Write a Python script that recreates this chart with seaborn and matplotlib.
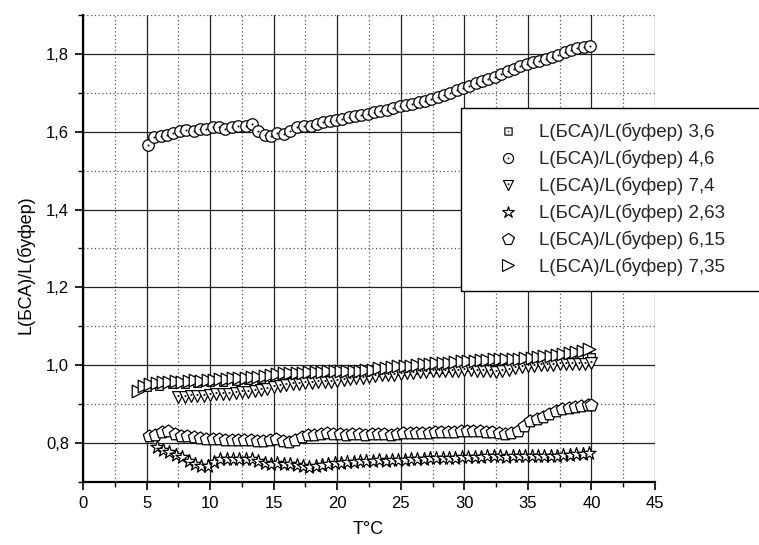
import matplotlib
matplotlib.use("Agg")
import numpy as np
import matplotlib.pyplot as plt
import seaborn as sns
from matplotlib.lines import Line2D
from matplotlib.path import Path
from matplotlib.ticker import MultipleLocator

# ---------------- data ----------------
labels = ["L(БСА)/L(буфер) 3,6", "L(БСА)/L(буфер) 4,6", "L(БСА)/L(буфер) 7,4",
          "L(БСА)/L(буфер) 2,63", "L(БСА)/L(буфер) 6,15", "L(БСА)/L(буфер) 7,35"]

t_36 = [5, 6, 7, 8, 9, 10, 11, 12, 13, 14, 15, 16, 17, 18, 19, 20, 21, 22, 23, 24,
        25, 26, 27, 28, 29, 30, 31, 32, 33, 34, 35, 36, 37, 38, 39, 40]
v_36 = [0.944, 0.947, 0.951, 0.952, 0.955, 0.956, 0.957, 0.960, 0.961, 0.964, 0.966, 0.967,
        0.970, 0.971, 0.974, 0.975, 0.978, 0.979, 0.982, 0.983, 0.986, 0.987, 0.990, 0.991,
        0.994, 0.995, 0.998, 0.999, 1.002, 1.003, 1.006, 1.008, 1.010, 1.013, 1.016, 1.020]

t_46 = [5.1, 5.6, 6.1, 6.6, 7.1, 7.6, 8.1, 8.7, 9.2, 9.7, 10.2, 10.7, 11.2, 11.7, 12.2, 12.8,
        13.3, 13.8, 14.3, 14.8, 15.3, 15.8, 16.3, 16.8, 17.4, 17.9, 18.4, 18.9, 19.4, 19.9,
        20.4, 20.9, 21.4, 21.9, 22.4, 22.9, 23.4, 23.9, 24.4, 24.9, 25.4, 25.9, 26.4, 26.9,
        27.4, 27.9, 28.4, 28.9, 29.4, 29.9, 30.4, 30.9, 31.4, 31.9, 32.4, 32.9, 33.4, 33.9,
        34.4, 34.9, 35.4, 35.9, 36.4, 36.9, 37.4, 37.9, 38.4, 38.9, 39.4, 39.9]
v_46 = [1.567, 1.586, 1.588, 1.592, 1.597, 1.603, 1.605, 1.602, 1.608, 1.606, 1.612, 1.611,
        1.608, 1.611, 1.616, 1.616, 1.619, 1.602, 1.592, 1.588, 1.597, 1.594, 1.603, 1.612,
        1.616, 1.615, 1.620, 1.626, 1.628, 1.630, 1.633, 1.637, 1.640, 1.643, 1.646, 1.650,
        1.653, 1.657, 1.660, 1.665, 1.668, 1.672, 1.676, 1.680, 1.685, 1.690, 1.695, 1.700,
        1.706, 1.712, 1.718, 1.724, 1.730, 1.735, 1.741, 1.749, 1.755, 1.762, 1.768, 1.774,
        1.778, 1.783, 1.787, 1.792, 1.798, 1.804, 1.810, 1.815, 1.818, 1.821]

t_74 = [7.5, 8.0, 8.5, 9.0, 9.5, 10.0, 10.5, 11.0, 11.5, 12.0, 12.5, 13.0, 13.5, 14.0, 14.5,
        15.0, 15.5, 16.0, 16.5, 17.0, 17.5, 18.0, 18.5, 19.0, 19.5, 20.0, 20.5, 21.0, 21.5,
        22.0, 22.5, 23.0, 23.5, 24.0, 24.5, 25.0, 25.5, 26.0, 26.5, 27.0, 27.5, 28.0, 28.5,
        29.0, 29.5, 30.0, 30.5, 31.0, 31.5, 32.0, 32.5, 33.0, 33.5, 34.0, 34.5, 35.0, 35.5,
        36.0, 36.5, 37.0, 37.5, 38.0, 38.5, 39.0, 39.5, 40.0]
v_74 = [0.918, 0.919, 0.920, 0.921, 0.922, 0.923, 0.925, 0.926, 0.927, 0.929, 0.930, 0.932,
        0.934, 0.937, 0.940, 0.944, 0.947, 0.949, 0.951, 0.952, 0.954, 0.955, 0.956, 0.957,
        0.958, 0.960, 0.962, 0.964, 0.966, 0.968, 0.970, 0.972, 0.974, 0.975, 0.976, 0.978,
        0.980, 0.981, 0.982, 0.983, 0.984, 0.985, 0.985, 0.986, 0.986, 0.987, 0.987, 0.986,
        0.985, 0.984, 0.982, 0.985, 0.989, 0.993, 0.996, 0.998, 0.999, 1.000, 1.001, 1.001,
        1.002, 1.002, 1.003, 1.003, 1.004, 1.005]

t_263 = [5.8, 6.3, 6.8, 7.3, 7.8, 8.3, 8.8, 9.3, 9.8, 10.3, 10.8, 11.3, 11.8, 12.3, 12.8,
         13.3, 13.8, 14.3, 14.8, 15.3, 15.8, 16.3, 16.8, 17.3, 17.8, 18.3, 18.8, 19.3, 19.8,
         20.3, 20.8, 21.3, 21.8, 22.3, 22.8, 23.3, 23.8, 24.3, 24.8, 25.3, 25.8, 26.3, 26.8,
         27.3, 27.8, 28.3, 28.8, 29.3, 29.8, 30.3, 30.8, 31.3, 31.8, 32.3, 32.8, 33.3, 33.8,
         34.3, 34.8, 35.3, 35.8, 36.3, 36.8, 37.3, 37.8, 38.3, 38.8, 39.3, 39.8]
v_263 = [0.790, 0.782, 0.776, 0.770, 0.763, 0.754, 0.746, 0.742, 0.741, 0.752, 0.758, 0.760,
         0.758, 0.760, 0.760, 0.758, 0.754, 0.749, 0.747, 0.748, 0.747, 0.746, 0.744, 0.742,
         0.739, 0.741, 0.744, 0.746, 0.748, 0.750, 0.751, 0.752, 0.754, 0.755, 0.755, 0.756,
         0.755, 0.756, 0.757, 0.757, 0.758, 0.758, 0.760, 0.761, 0.761, 0.761, 0.762, 0.762,
         0.763, 0.764, 0.764, 0.765, 0.766, 0.767, 0.766, 0.765, 0.766, 0.767, 0.766, 0.766,
         0.767, 0.767, 0.768, 0.768, 0.769, 0.770, 0.771, 0.772, 0.774]

t_615 = [5.2, 5.7, 6.2, 6.7, 7.2, 7.7, 8.2, 8.7, 9.2, 9.7, 10.2, 10.7, 11.2, 11.7, 12.2, 12.7,
         13.2, 13.7, 14.2, 14.7, 15.2, 15.7, 16.2, 16.7, 17.2, 17.7, 18.2, 18.7, 19.2, 19.7,
         20.2, 20.7, 21.2, 21.7, 22.2, 22.7, 23.2, 23.7, 24.2, 24.7, 25.2, 25.7, 26.2, 26.7,
         27.2, 27.7, 28.2, 28.7, 29.2, 29.7, 30.2, 30.7, 31.2, 31.7, 32.2, 32.7, 33.2, 33.7,
         34.2, 34.7, 35.2, 35.7, 36.2, 36.7, 37.2, 37.7, 38.2, 38.7, 39.2, 39.7, 40.0]
v_615 = [0.817, 0.821, 0.829, 0.830, 0.823, 0.818, 0.817, 0.815, 0.814, 0.811, 0.810, 0.810,
         0.809, 0.808, 0.808, 0.807, 0.807, 0.806, 0.806, 0.807, 0.810, 0.806, 0.803, 0.808,
         0.815, 0.820, 0.822, 0.823, 0.825, 0.824, 0.823, 0.822, 0.823, 0.824, 0.822, 0.823,
         0.824, 0.823, 0.822, 0.824, 0.825, 0.826, 0.826, 0.827, 0.827, 0.828, 0.829, 0.828,
         0.829, 0.830, 0.831, 0.832, 0.831, 0.829, 0.828, 0.826, 0.824, 0.825, 0.832, 0.845,
         0.858, 0.862, 0.868, 0.876, 0.882, 0.887, 0.891, 0.894, 0.896, 0.897, 0.898]

t_735 = [4.3, 4.8, 5.3, 5.8, 6.3, 6.8, 7.3, 7.8, 8.3, 8.8, 9.3, 9.8, 10.3, 10.8, 11.3, 11.8,
         12.3, 12.8, 13.3, 13.8, 14.3, 14.8, 15.3, 15.8, 16.3, 16.8, 17.3, 17.8, 18.3, 18.8,
         19.3, 19.8, 20.3, 20.8, 21.3, 21.8, 22.3, 22.8, 23.3, 23.8, 24.3, 24.8, 25.3, 25.8,
         26.3, 26.8, 27.3, 27.8, 28.3, 28.8, 29.3, 29.8, 30.3, 30.8, 31.3, 31.8, 32.3, 32.8,
         33.3, 33.8, 34.3, 34.8, 35.3, 35.8, 36.3, 36.8, 37.3, 37.8, 38.3, 38.8, 39.3, 39.8]
v_735 = [0.934, 0.946, 0.951, 0.955, 0.957, 0.958, 0.959, 0.958, 0.960, 0.961, 0.960, 0.962,
         0.963, 0.964, 0.965, 0.966, 0.967, 0.968, 0.969, 0.970, 0.972, 0.975, 0.978, 0.979,
         0.980, 0.980, 0.981, 0.982, 0.982, 0.983, 0.984, 0.985, 0.985, 0.985, 0.986, 0.986,
         0.987, 0.988, 0.993, 0.994, 0.995, 0.997, 0.998, 0.999, 1.000, 1.002, 1.003, 1.005,
         1.006, 1.007, 1.009, 1.010, 1.011, 1.012, 1.013, 1.014, 1.015, 1.016, 1.016, 1.017,
         1.017, 1.018, 1.019, 1.021, 1.023, 1.025, 1.027, 1.030, 1.032, 1.035, 1.037, 1.041]

x_ticks = [0, 5, 10, 15, 20, 25, 30, 35, 40, 45]
x_tick_labels = ["0", "5", "10", "15", "20", "25", "30", "35", "40", "45"]
y_ticks = [0.8, 1.0, 1.2, 1.4, 1.6, 1.8]
y_tick_labels = ["0,8", "1,0", "1,2", "1,4", "1,6", "1,8"]


# ---------------- marker shapes with a centre dot (Origin style) ----------------
def dotted(outer_verts, cx=0.0, cy=0.0, r=0.07):
    outer = Path(np.vstack([outer_verts, outer_verts[:1]]), closed=True)
    dot = Path(Path.unit_circle().vertices * r + [cx, cy], Path.unit_circle().codes)
    return Path.make_compound_path(outer, dot)


ang = np.linspace(0, 2 * np.pi, 65)[:-1]
circle_dot = dotted(np.c_[np.cos(ang), np.sin(ang)])
square_dot = dotted(np.array([[-1, -1], [1, -1], [1, 1], [-1, 1]], float))
tri_down_dot = dotted(np.array([[0, -1], [1, 1], [-1, 1]], float), cy=0.25)

# ---------------- style ----------------
sns.set_theme(style="white")
plt.rcParams["font.family"] = ["Liberation Sans", "DejaVu Sans"]

fig = plt.figure(figsize=(7.59, 5.45), dpi=100)
ax = fig.add_axes([83 / 759, 1 - 482 / 545, 572 / 759, 467 / 545])

series = [
    (t_36, v_36, square_dot, 30),
    (t_46, v_46, circle_dot, 68),
    (t_74, v_74, tri_down_dot, 72),
    (t_263, v_263, "*", 100),
    (t_615, v_615, "p", 88),
    (t_735, v_735, ">", 82),
]
legend_sizes = [5.2, 7.2, 7.2, 8.8, 8.4, 8.2]

handles = []
for (t, v, mk, s), ms in zip(series, legend_sizes):
    sns.scatterplot(x=t, y=v, marker=mk, s=s, facecolor="white", edgecolor="black",
                    linewidth=0.9, ax=ax, legend=False)
    handles.append(Line2D([], [], linestyle="none", marker=mk, markersize=ms,
                          markerfacecolor="white", markeredgecolor="black",
                          markeredgewidth=0.85))

ax.set_xlim(0, 45)
ax.set_ylim(0.7, 1.9)
ax.set_xticks(x_ticks)
ax.set_xticklabels(x_tick_labels)
ax.set_yticks(y_ticks)
ax.set_yticklabels(y_tick_labels)
ax.xaxis.set_minor_locator(MultipleLocator(2.5))
ax.yaxis.set_minor_locator(MultipleLocator(0.1))

ax.set_axisbelow(True)
ax.grid(which="major", color="#222222", linewidth=0.9, linestyle="-")
ax.grid(which="minor", color="#555555", linewidth=0.9, linestyle=(0, (1, 2)))

for side in ["top", "right"]:
    ax.spines[side].set_visible(False)
for side in ["left", "bottom"]:
    ax.spines[side].set_color("black")
    ax.spines[side].set_linewidth(1.6)

ax.tick_params(which="major", direction="out", length=6, width=1.2, color="black",
               labelsize=12, labelcolor="black", left=True, bottom=True, pad=4)
ax.tick_params(which="minor", direction="out", length=3.5, width=1.0, color="black",
               left=True, bottom=True)

ax.set_xlabel("T°C", fontsize=13, color="black")
ax.set_ylabel("L(БСА)/L(буфер)", fontsize=13, color="black")
ax.xaxis.set_label_coords(0.498, -0.083)
ax.yaxis.set_label_coords(-0.085, 0.465)

leg = fig.legend(handles, labels, loc="upper left",
                 bbox_to_anchor=(461 / 759, 1 - 108 / 545, 310 / 759, 0.0),
                 mode="expand", fontsize=13.5, frameon=True, fancybox=False, shadow=False,
                 borderpad=0.8, borderaxespad=0, handlelength=3.4, handletextpad=-0.05,
                 labelspacing=0.46)
leg.get_frame().set_edgecolor("black")
leg.get_frame().set_linewidth(1.0)
leg.get_frame().set_facecolor("white")
leg.get_frame().set_alpha(1.0)

fig.savefig("out.png", dpi=100)
